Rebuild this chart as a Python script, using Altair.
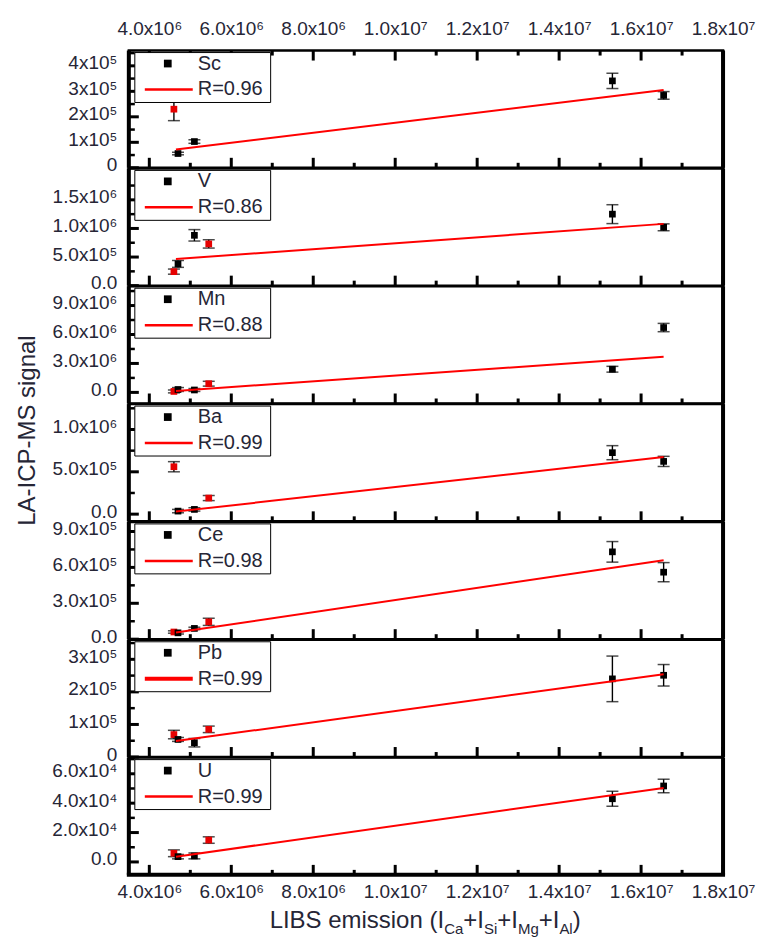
import json

import altair as alt
import pandas as pd

FONT = "Liberation Sans"
TXT = "#262636"
FIT_RED = "#ff0000"
PT_RED = "#e60000"

W = 595      # plot width of every panel
H = 117.4    # plot height of every panel

# ---- shared LIBS-emission axis -------------------------------------------
x_lo, x_hi = 3.5e6, 1.8e7
x_major = [4.0e6, 6.0e6, 8.0e6, 1.0e7, 1.2e7, 1.4e7, 1.6e7, 1.8e7]
x_major_text = ["4.0x10⁶", "6.0x10⁶", "8.0x10⁶", "1.0x10⁷",
                "1.2x10⁷", "1.4x10⁷", "1.6x10⁷", "1.8x10⁷"]
x_minor = [5.0e6, 7.0e6, 9.0e6, 1.1e7, 1.3e7, 1.5e7, 1.7e7]

# ---- samples ---------------------------------------------------------------
elements = ["Sc", "V", "Mn", "Ba", "Ce", "Pb", "U"]
r_labels = ["R=0.96", "R=0.86", "R=0.88", "R=0.99", "R=0.98", "R=0.99", "R=0.99"]

libs_x = [4.6e6, 4.7e6, 5.1e6, 5.45e6, 1.53e7, 1.655e7]
is_outlier = [True, False, False, True, False, False]
libs_x_sc = [4.6e6, 4.7e6, 5.1e6, 1.53e7, 1.655e7]
is_outlier_sc = [True, False, False, False, False]

icp_sc = [2.3e5, 0.56e5, 1.03e5, 3.41e5, 2.84e5]
err_sc = [0.45e5, 0.05e5, 0.07e5, 0.3e5, 0.15e5]
icp_v = [0.245e6, 0.38e6, 0.88e6, 0.73e6, 1.25e6, 1.02e6]
err_v = [0.045e6, 0.06e6, 0.1e6, 0.073e6, 0.165e6, 0.06e6]
icp_mn = [0.1e6, 0.3e6, 0.25e6, 0.9e6, 2.4e6, 6.72e6]
err_mn = [0.15e6, 0.2e6, 0.15e6, 0.25e6, 0.3e6, 0.43e6]
icp_ba = [0.56e6, 0.036e6, 0.056e6, 0.19e6, 0.726e6, 0.623e6]
err_ba = [0.06e6, 0.02e6, 0.02e6, 0.03e6, 0.083e6, 0.06e6]
icp_ce = [0.6e5, 0.53e5, 0.9e5, 1.45e5, 7.3e5, 5.6e5]
err_ce = [0.1e5, 0.1e5, 0.1e5, 0.3e5, 0.86e5, 0.8e5]
icp_pb = [0.69e5, 0.54e5, 0.44e5, 0.85e5, 2.4e5, 2.51e5]
err_pb = [0.13e5, 0.06e5, 0.13e5, 0.1e5, 0.7e5, 0.33e5]
icp_u = [0.59e4, 0.36e4, 0.41e4, 1.49e4, 4.3e4, 5.17e4]
err_u = [0.23e4, 0.15e4, 0.2e4, 0.22e4, 0.51e4, 0.46e4]

# linear-fit end points
fit_x = [4.65e6, 1.655e7]
fit_sc = [0.72e5, 3.05e5]
fit_v = [0.465e6, 1.08e6]
fit_mn = [0.15e6, 3.69e6]
fit_ba = [0.03e6, 0.675e6]
fit_ce = [0.55e5, 6.6e5]
fit_pb = [0.49e5, 2.54e5]
fit_u = [0.36e4, 5.04e4]

# ---- y axes of the seven panels ---------------------------------------------
y_domain = {
    "Sc": [0, 4.6e5], "V": [0, 2.05e6], "Mn": [-1.15e6, 1.1e7],
    "Ba": [-8.5e4, 1.3e6], "Ce": [0, 9.8e5], "Pb": [0, 3.6e5], "U": [-8.8e3, 7.1e4],
}
y_major = {
    "Sc": [0, 1e5, 2e5, 3e5, 4e5], "V": [0, 5e5, 1e6, 1.5e6], "Mn": [0, 3e6, 6e6, 9e6],
    "Ba": [0, 5e5, 1e6], "Ce": [0, 3e5, 6e5, 9e5], "Pb": [0, 1e5, 2e5, 3e5],
    "U": [0, 2e4, 4e4, 6e4],
}
y_major_text = {
    "Sc": ["0", "1x10⁵", "2x10⁵", "3x10⁵", "4x10⁵"],
    "V": ["0.0", "5.0x10⁵", "1.0x10⁶", "1.5x10⁶"],
    "Mn": ["0.0", "3.0x10⁶", "6.0x10⁶", "9.0x10⁶"],
    "Ba": ["0.0", "5.0x10⁵", "1.0x10⁶"],
    "Ce": ["0.0", "3.0x10⁵", "6.0x10⁵", "9.0x10⁵"],
    "Pb": ["0", "1x10⁵", "2x10⁵", "3x10⁵"],
    "U": ["0.0", "2.0x10⁴", "4.0x10⁴", "6.0x10⁴"],
}
y_minor = {
    "Sc": [0.5e5, 1.5e5, 2.5e5, 3.5e5, 4.5e5], "V": [2.5e5, 7.5e5, 1.25e6, 1.75e6],
    "Mn": [1.5e6, 4.5e6, 7.5e6, 1.05e7], "Ba": [2.5e5, 7.5e5, 1.25e6],
    "Ce": [1.5e5, 4.5e5, 7.5e5], "Pb": [0.5e5, 1.5e5, 2.5e5, 3.5e5],
    "U": [1e4, 3e4, 5e4, 7e4],
}

series = {
    "Sc": (libs_x_sc, icp_sc, err_sc, is_outlier_sc, fit_sc),
    "V": (libs_x, icp_v, err_v, is_outlier, fit_v),
    "Mn": (libs_x, icp_mn, err_mn, is_outlier, fit_mn),
    "Ba": (libs_x, icp_ba, err_ba, is_outlier, fit_ba),
    "Ce": (libs_x, icp_ce, err_ce, is_outlier, fit_ce),
    "Pb": (libs_x, icp_pb, err_pb, is_outlier, fit_pb),
    "U": (libs_x, icp_u, err_u, is_outlier, fit_u),
}

# Arial / Liberation Sans advance widths (em) for the composed x title
ADV = {"L": .556, "I": .278, "B": .667, "S": .667, " ": .278, "e": .556, "m": .833,
       "i": .222, "s": .5, "o": .556, "n": .556, "(": .333, ")": .333, "C": .722,
       "a": .556, "+": .584, "M": .833, "g": .556, "A": .667, "l": .222}


def label_expr(values, texts):
    return (f"{json.dumps(texts, ensure_ascii=False)}"
            f"[indexof({json.dumps(values)}, datum.value)]")


def x_axis(orient):
    pad = 12 if orient == "top" else 8
    return alt.Axis(orient=orient, values=x_major, labelExpr=label_expr(x_major, x_major_text),
                    ticks=False, domain=False, grid=False, labelPadding=pad,
                    labelFontSize=19, labelFont=FONT, labelColor=TXT,
                    labelFlush=False, labelOverlap=False, title=None)


def y_axis(el, title=None):
    kw = dict(values=y_major[el], labelExpr=label_expr(y_major[el], y_major_text[el]),
              ticks=False, domain=False, grid=False, labelPadding=12, labelOffset=-3,
              labelFontSize=19, labelFont=FONT, labelColor=TXT,
              labelFlush=False, labelOverlap=False)
    if title:
        kw.update(title=title, titleX=-94, titleY=26, titleAngle=270, titleAlign="center",
                  titleBaseline="alphabetic", titleFontSize=24, titleFont=FONT,
                  titleFontWeight="normal", titleColor=TXT)
    else:
        kw["title"] = None
    return alt.Axis(**kw)


def panel(idx):
    el = elements[idx]
    xs, ys, errs, outl, fit_y = series[el]
    top = idx == 0
    bottom = idx == len(elements) - 1
    xax = x_axis("top") if top else (x_axis("bottom") if bottom else None)
    yax = y_axis(el, "LA-ICP-MS signal" if el == "Ba" else None)
    xsc = alt.Scale(domain=[x_lo, x_hi], nice=False, zero=False)
    ysc = alt.Scale(domain=y_domain[el], nice=False, zero=False)

    def X(f):
        return alt.X(f"{f}:Q", scale=xsc, axis=xax)

    def Y(f):
        return alt.Y(f"{f}:Q", scale=ysc, axis=yax)

    pts = pd.DataFrame({
        "x": xs, "y": ys,
        "lo": [v - e for v, e in zip(ys, errs)],
        "hi": [v + e for v, e in zip(ys, errs)],
        "grp": ["outlier" if o else "fitted" for o in outl],
    })
    fit = pd.DataFrame({"x": fit_x, "y": fit_y})
    key = pd.DataFrame({"name": [el], "r": [r_labels[idx]]})

    layers = []
    # inward ticks on the left axis
    layers.append(alt.Chart(pd.DataFrame({"y": y_major[el]})).mark_rule(color="black", strokeWidth=3)
                  .encode(y=Y("y"), x=alt.value(0), x2=alt.value(10)))
    layers.append(alt.Chart(pd.DataFrame({"y": y_minor[el]})).mark_rule(color="black", strokeWidth=2.5)
                  .encode(y=Y("y"), x=alt.value(0), x2=alt.value(6)))
    # inward ticks on the lower edge (and on the upper edge of the first panel)
    layers.append(alt.Chart(pd.DataFrame({"x": x_major})).mark_rule(color="black", strokeWidth=3)
                  .encode(x=X("x"), y=alt.value(H), y2=alt.value(H - 10)))
    layers.append(alt.Chart(pd.DataFrame({"x": x_minor})).mark_rule(color="black", strokeWidth=3)
                  .encode(x=X("x"), y=alt.value(H), y2=alt.value(H - 5)))
    if top:
        layers.append(alt.Chart(pd.DataFrame({"x": x_major})).mark_rule(color="black", strokeWidth=3)
                      .encode(x=X("x"), y=alt.value(0), y2=alt.value(10)))
        layers.append(alt.Chart(pd.DataFrame({"x": x_minor})).mark_rule(color="black", strokeWidth=3)
                      .encode(x=X("x"), y=alt.value(0), y2=alt.value(5)))
    # heavier left / right frame lines
    frame = alt.Chart(key)
    layers.append(frame.mark_rule(color="black", strokeWidth=4)
                  .encode(x=alt.value(0), y=alt.value(0), y2=alt.value(H)))
    layers.append(frame.mark_rule(color="black", strokeWidth=4)
                  .encode(x=alt.value(W), y=alt.value(0), y2=alt.value(H)))
    if bottom:
        layers.append(frame.mark_rule(color="black", strokeWidth=4)
                      .encode(x=alt.value(-2), x2=alt.value(W + 2), y=alt.value(H)))

    # error bars with caps
    base = alt.Chart(pts)
    layers.append(base.mark_rule(color="black", strokeWidth=1.4)
                  .encode(x=X("x"), y=Y("lo"), y2="hi"))
    for f in ("lo", "hi"):
        layers.append(base.mark_tick(orient="horizontal", size=12, thickness=1.5, color="black")
                      .encode(x=X("x"), y=Y(f)))
    # measured points
    layers.append(base.mark_square(size=45, opacity=1)
                  .encode(x=X("x"), y=Y("y"),
                          color=alt.Color("grp:N", legend=None,
                                          scale=alt.Scale(domain=["fitted", "outlier"],
                                                          range=["black", PT_RED]))))
    # linear fit
    layers.append(alt.Chart(fit).mark_line(color=FIT_RED, strokeWidth=2)
                  .encode(x=X("x"), y=Y("y")))

    # key box
    kb = alt.Chart(key)
    layers.append(kb.mark_rect(fill="white", stroke="black", strokeWidth=1)
                  .encode(x=alt.value(6), x2=alt.value(142), y=alt.value(2), y2=alt.value(52)))
    layers.append(kb.mark_square(size=60, color="black", opacity=1)
                  .encode(x=alt.value(39), y=alt.value(13)))
    layers.append(kb.mark_text(align="left", baseline="middle", fontSize=20, font=FONT, color=TXT)
                  .encode(x=alt.value(69), y=alt.value(13), text="name:N"))
    layers.append(kb.mark_rule(color=FIT_RED, strokeWidth=4 if el == "Pb" else 2.5)
                  .encode(x=alt.value(16), x2=alt.value(64), y=alt.value(39)))
    layers.append(kb.mark_text(align="left", baseline="middle", fontSize=20, font=FONT, color=TXT)
                  .encode(x=alt.value(69), y=alt.value(39), text="r:N"))

    if bottom:
        # x title with subscripted intensities
        pieces = [("LIBS emission (I", 24, 0), ("Ca", 15, 6), ("+I", 24, 0), ("Si", 15, 6),
                  ("+I", 24, 0), ("Mg", 15, 6), ("+I", 24, 0), ("Al", 15, 6), (")", 24, 0)]
        px = 141.0
        for txt, fs, dy in pieces:
            layers.append(kb.mark_text(align="left", baseline="alphabetic", fontSize=fs,
                                       font=FONT, color=TXT)
                          .encode(x=alt.value(px), y=alt.value(H + 53 + dy), text=alt.value(txt)))
            px += sum(ADV[c] for c in txt) * fs

    return alt.layer(*layers).properties(width=W, height=H)


chart = (
    alt.vconcat(*[panel(i) for i in range(len(elements))], spacing=0, bounds="flush")
    .resolve_scale(x="independent", y="independent")
    .configure_view(stroke="black", strokeWidth=2.5)
    .properties(padding={"left": 14, "top": 17, "right": 5, "bottom": 5},
                background="white")
)

chart.save("out.html", embed_options={"renderer": "svg", "actions": False})
